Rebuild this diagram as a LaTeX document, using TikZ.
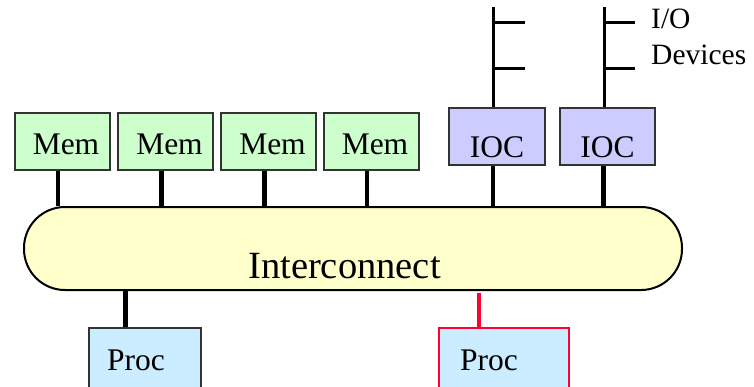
\documentclass[tikz,border=0pt]{standalone}
\usepackage{fontspec}
\setmainfont{LiberationSerif}[Extension=.ttf, UprightFont=*-Regular, BoldFont=*-Bold]
\newfontfamily\timesfont{LiberationSerif}[Extension=.ttf, UprightFont=*-Regular]
\usetikzlibrary{positioning, calc}
\definecolor{memgreen}{RGB}{204,255,204}
\definecolor{iocblue}{RGB}{204,204,255}
\definecolor{procblue}{RGB}{204,236,255}
\definecolor{busyellow}{RGB}{255,255,204}
\definecolor{hotred}{RGB}{255,0,51}

\begin{document}
\begin{tikzpicture}[
    x=1pt, y=-1pt,
    unit/.style={rectangle, draw=black!80, line width=2pt, inner sep=0pt, minimum height=57pt, font=\timesfont\fontsize{31.5}{36}\selectfont},
    mem/.style={unit, fill=memgreen, minimum width=95pt, text height=26pt, text depth=0pt},
    ioc/.style={unit, fill=iocblue, minimum width=96pt, text height=41pt, text depth=0pt},
    proc/.style={unit, fill=procblue, minimum height=66pt, anchor=north west},
    bus/.style={rectangle, rounded corners=41pt, draw=black, line width=2pt, fill=busyellow, inner sep=0pt, minimum width=658pt, minimum height=83pt, text height=59pt, text depth=0pt, font=\timesfont\fontsize{38.5}{44}\selectfont},
    lbl/.style={inner sep=0pt, font=\timesfont\fontsize{31.5}{36}\selectfont},
    link/.style={line width=4.5pt},
    iolink/.style={line width=3pt},
]
\useasboundingbox (0,0) rectangle (754,386);

% Interconnect
\node[bus] (bus) at (353,248.5) {Interconnect\hspace*{17pt}};

% Memory modules
\node[mem] (m1) at (62,141) {\hspace*{8pt}Mem};
\node[mem] (m2) at (165.5,141) {\hspace*{8pt}Mem};
\node[mem] (m3) at (268.5,141) {\hspace*{8pt}Mem};
\node[mem] (m4) at (371,141) {\hspace*{8pt}Mem};

% I/O controllers
\node[ioc] (io1) at (497,136.5) {IOC};
\node[ioc, minimum width=95pt] (io2) at (607.5,136.5) {IOC};

% Processors
\node[proc, minimum width=112pt] (p1) at (88,327) {};
\node[proc, minimum width=130pt, draw=hotred] (p2) at (438,327) {};
\node[lbl, anchor=base west] (t1) at ($(p1.north west)+(19,43)$) {Proc};
\node[lbl, anchor=base west] (t2) at ($(p2.north west)+(22,43)$) {Proc};

% Links to the interconnect
\foreach \n in {m1,m2,m3,m4,io1,io2}
  \draw[link] ([xshift=-4pt]\n.south) -- ([xshift=-4pt]\n.south |- bus.north);
\coordinate (c1) at ($(p1.north west)+(37.5,0)$);
\coordinate (c2) at ($(p2.north west)+(41,0)$);
\draw[link] (c1) -- (c1 |- bus.south);
\draw[link, line width=4pt] ([yshift=2pt]c2) -- ([yshift=-2pt]c2);
\draw[link, line width=4pt, hotred] ([yshift=-2pt]c2) -- ([yshift=-2pt]c2 |- bus.south);

% I/O device buses
\coordinate (d1) at ($(io1.north)+(-3.5,-100)$);
\coordinate (d2) at ($(io2.north)+(-3.5,-100)$);
\draw[iolink] ([xshift=-3.5pt]io1.north) -- (d1);
\draw[iolink] ([xshift=-3.5pt]io2.north) -- (d2);
\draw[iolink] ($(d1)+(0,15.5)$) -- ++(31,0);
\draw[iolink] ($(d1)+(0,61.5)$) -- ++(31,0);
\draw[iolink] ($(d2)+(0,15.5)$) -- ++(31,0) coordinate (dev);
\draw[iolink] ($(d2)+(0,61.5)$) -- ++(31,0);
\node[lbl, anchor=base west, align=left, font=\timesfont\fontsize{29.5}{36}\selectfont] (devs) at ($(dev)+(16,41.5)$) {I/O\\Devices};

\end{tikzpicture}
\end{document}
